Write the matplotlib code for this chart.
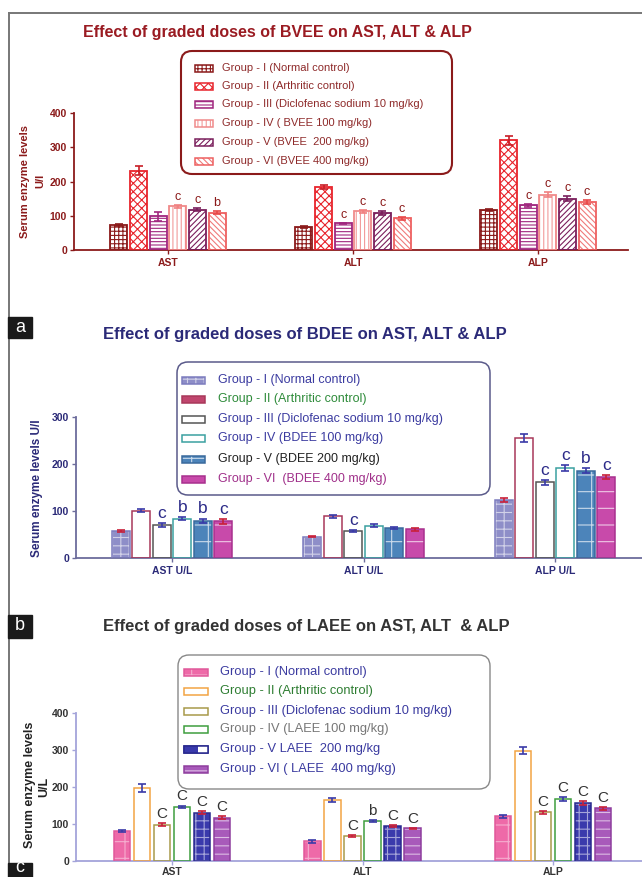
import numpy as np
import matplotlib
matplotlib.use('Agg')
import matplotlib.pyplot as plt
from matplotlib.patches import Rectangle, FancyBboxPatch

plt.rcParams['font.family'] = ['Liberation Sans', 'DejaVu Sans']
plt.rcParams['hatch.linewidth'] = 0.8

W, H = 642, 877

# ---- data: rows = AST, ALT, ALP ; columns = Group I .. VI ----
enz_a = ['AST', 'ALT', 'ALP']
bvee_mean = [[72, 232, 99, 128, 118, 109],
             [67, 184, 78, 113, 108, 92],
             [117, 321, 130, 162, 150, 139]]
bvee_err = [[3, 12, 13, 4, 5, 4],
            [4, 7, 2, 5, 5, 4],
            [4, 13, 5, 6, 7, 6]]
bvee_sig = [['', '', '', 'c', 'c', 'b'],
            ['', '', 'c', 'c', 'c', 'c'],
            ['', '', 'c', 'c', 'c', 'c']]
bvee_labels = ['Group - I (Normal control)', 'Group - II (Arthritic control)',
               'Group - III (Diclofenac sodium 10 mg/kg)', 'Group - IV ( BVEE 100 mg/kg)',
               'Group - V (BVEE  200 mg/kg)', 'Group - VI (BVEE 400 mg/kg)']

enz_b = ['AST U/L', 'ALT U/L', 'ALP U/L']
bdee_mean = [[58, 101, 71, 84, 79, 78],
             [45, 89, 58, 69, 64, 61],
             [124, 255, 161, 191, 186, 172]]
bdee_err = [[2, 3, 4, 4, 5, 5],
            [1, 3, 2, 3, 2, 3],
            [4, 8, 5, 6, 6, 4]]
bdee_sig = [['', '', 'c', 'b', 'b', 'c'],
            ['', '', 'c', '', '', ''],
            ['', '', 'c', 'c', 'b', 'c']]
bdee_labels = ['Group - I (Normal control)', 'Group - II (Arthritic control)',
               'Group - III (Diclofenac sodium 10 mg/kg)', 'Group - IV (BDEE 100 mg/kg)',
               'Group - V (BDEE 200 mg/kg)', 'Group - VI  (BDEE 400 mg/kg)']

enz_c = ['AST', 'ALT', 'ALP']
laee_mean = [[81, 197, 98, 146, 131, 117],
             [53, 165, 67, 108, 94, 88],
             [121, 298, 132, 168, 157, 142]]
laee_err = [[3, 10, 4, 4, 3, 4],
            [3, 5, 2, 3, 3, 2],
            [4, 10, 4, 6, 5, 5]]
laee_sig = [['', '', 'C', 'C', 'C', 'C'],
            ['', '', 'C', 'b', 'C', 'C'],
            ['', '', 'C', 'C', 'C', 'C']]
laee_labels = ['Group - I (Normal control)', 'Group - II (Arthritic control)',
               'Group - III (Diclofenac sodium 10 mg/kg)', 'Group - IV (LAEE 100 mg/kg)',
               'Group - V LAEE  200 mg/kg', 'Group - VI ( LAEE  400 mg/kg)']

# ---- bar styles: fill, hatch, hatch colour, edge, error bar colour ----
sty_a = [dict(fill='white', hatch='++++', hc='#8B1A1A', edge='#8B1A1A', ec='#8B1A1A'),
         dict(fill='white', hatch='xxxx', hc='#E8242C', edge='#E8242C', ec='#C81E26'),
         dict(fill='white', hatch='-----', hc='#A0267E', edge='#A0267E', ec='#A0267E'),
         dict(fill='white', hatch='||||', hc='#F29A9A', edge='#F08A8A', ec='#F08080'),
         dict(fill='white', hatch='//////', hc='#7A1F5C', edge='#7A1F5C', ec='#7A1F5C'),
         dict(fill='white', hatch='\\\\\\\\\\\\', hc='#F07A7A', edge='#EE6060', ec='#E84848')]
sty_b = [dict(fill='#8E8EC8', hatch='++', hc=(1, 1, 1, 0.6), edge='#7C7CBE', ec='#C8203A'),
         dict(fill='white', hatch='', hc='white', edge='#A8385A', ec='#3A3AA8'),
         dict(fill='white', hatch='', hc='white', edge='#555555', ec='#3A3AA8'),
         dict(fill='white', hatch='', hc='white', edge='#3AA0A0', ec='#3A3AA8'),
         dict(fill='#4C84BA', hatch='+', hc=(1, 1, 1, 0.7), edge='#3A6A9C', ec='#3A3AA8'),
         dict(fill='#C84AAA', hatch='-', hc=(1, 1, 1, 0.7), edge='#A8308E', ec='#C8203A')]
sty_c = [dict(fill='#EE6AA8', hatch='+', hc=(1, 1, 1, 0.45), edge='#E0589A', ec='#3A3AA8'),
         dict(fill='white', hatch='', hc='white', edge='#F2A444', ec='#3A3AA8'),
         dict(fill='white', hatch='', hc='white', edge='#A89A4A', ec='#C8203A'),
         dict(fill='white', hatch='', hc='white', edge='#3E9E3E', ec='#3A3AA8'),
         dict(fill='#3A3AAC', hatch='++', hc=(1, 1, 1, 0.55), edge='#2A2A8E', ec='#C8203A'),
         dict(fill='#A85ABA', hatch='--', hc=(1, 1, 1, 0.6), edge='#8E3E9E', ec='#C8203A')]

fig = plt.figure(figsize=(W / 100, H / 100), dpi=100)


def px_axes(x0, x1, ytop, ybot):
    return fig.add_axes([x0 / W, 1 - ybot / H, (x1 - x0) / W, (ybot - ytop) / H])


def draw_panel(ax, means, errs, sig, sty, names, pitch, width, ymax, yticks,
               axcol, tickcol, sigcol, sigsize, lw):
    means = np.array(means)
    errs = np.array(errs)
    xg = np.arange(len(names))
    for j, s in enumerate(sty):
        x = xg + (j - 2.5) * pitch
        ax.bar(x, means[:, j], width, color=s['fill'], edgecolor=s['hc'],
               hatch=s['hatch'], linewidth=0, zorder=2)
        ax.bar(x, means[:, j], width, color='none', edgecolor=s['edge'],
               linewidth=lw, zorder=3)
        ax.errorbar(x, means[:, j], yerr=errs[:, j], fmt='none', ecolor=s['ec'],
                    elinewidth=1.2, capsize=3, capthick=1.2, zorder=4)
        for i in range(len(names)):
            if sig[i][j]:
                ax.annotate(sig[i][j], (x[i], means[i, j] + errs[i, j]),
                            xytext=(0, 1.5), textcoords='offset points',
                            ha='center', va='bottom', fontsize=sigsize,
                            color=sigcol, annotation_clip=False)
    ax.set_ylim(0, ymax)
    ax.set_yticks(yticks)
    ax.set_xticks(xg)
    ax.set_xticklabels(names, fontsize=7.5, fontweight='bold')
    for lab in ax.get_yticklabels():
        lab.set_fontsize(7.5)
        lab.set_fontweight('bold')
    for sp in ['top', 'right']:
        ax.spines[sp].set_visible(False)
    for sp in ['left', 'bottom']:
        ax.spines[sp].set_color(axcol)
        ax.spines[sp].set_linewidth(1.3)
    ax.tick_params(axis='both', color=axcol, labelcolor=tickcol, length=3, width=1, pad=2)
    ax.tick_params(axis='x', pad=3)
    ax.patch.set_alpha(0)


# panel a : BVEE
ax_a = px_axes(74, 628, 113, 250)
ax_a.set_xlim((74 - 168) / 185, 2 + (628 - 538) / 185)
draw_panel(ax_a, bvee_mean, bvee_err, bvee_sig, sty_a, enz_a, 0.106, 0.092, 400,
           [0, 100, 200, 300, 400], '#8B1A1A', '#8B1A1A', '#8B1A1A', 9, 1.3)

# panel b : BDEE
ax_b = px_axes(76, 642, 417, 558)
ax_b.set_xlim((76 - 172) / 191.5, 2 + (642 - 555) / 191.5)
draw_panel(ax_b, bdee_mean, bdee_err, bdee_sig, sty_b, enz_b, 0.107, 0.094, 300,
           [0, 100, 200, 300], '#6C6C9C', '#2B2A78', '#2B2A88', 12.5, 1.1)

# panel c : LAEE
ax_c = px_axes(76, 642, 713, 861)
ax_c.set_xlim((76 - 172) / 190.5, 2 + (642 - 553) / 190.5)
draw_panel(ax_c, laee_mean, laee_err, laee_sig, sty_c, enz_c, 0.105, 0.089, 400,
           [0, 100, 200, 300, 400], '#A4A4DA', '#333333', '#333333', 11, 1.1)
ax_c.tick_params(axis='x', pad=1)

# overlay in pixel coordinates for titles, legends, frame and panel tags
bg = fig.add_axes([0, 0, 1, 1])
bg.set_xlim(0, W)
bg.set_ylim(H, 0)
bg.axis('off')
bg.patch.set_alpha(0)

bg.plot([9, 9], [13, H], color='#777777', lw=1.4)
bg.plot([9, W], [13, 13], color='#777777', lw=1.4)

for tag, (ty0, ty1), ty in zip(['a', 'b', 'c'], [(317, 338), (615, 638), (863, 884)],
                               [327, 626, 868]):
    bg.add_patch(Rectangle((8, ty0), 24, ty1 - ty0, color='#1A1A1A', zorder=5))
    bg.text(20, ty, tag, color='white', fontsize=13, ha='center',
            va='center', zorder=6)

bg.text(277, 33, 'Effect of graded doses of BVEE on AST, ALT & ALP', fontsize=11.5,
        fontweight='bold', color='#9A1B22', ha='center', va='center')
bg.text(305, 335, 'Effect of graded doses of BDEE on AST, ALT & ALP', fontsize=12,
        fontweight='bold', color='#2B2A78', ha='center', va='center')
bg.text(306, 627, 'Effect of graded doses of LAEE on AST, ALT  & ALP', fontsize=12,
        fontweight='bold', color='#333333', ha='center', va='center')

# y axis titles
bg.text(25, 181, 'Serum enzyme levels', rotation=90, fontsize=8, fontweight='bold',
        color='#8B1A1A', ha='center', va='center')
bg.text(40, 181, 'U/I', rotation=90, fontsize=8, fontweight='bold',
        color='#8B1A1A', ha='center', va='center')
bg.text(37, 488, 'Serum enzyme levels U/l', rotation=90, fontsize=8.5,
        fontweight='bold', color='#2B2A78', ha='center', va='center')
bg.text(30, 785, 'Serum enzyme levels', rotation=90, fontsize=9, fontweight='bold',
        color='#222222', ha='center', va='center')
bg.text(44, 787, 'U/L', rotation=90, fontsize=9, fontweight='bold',
        color='#222222', ha='center', va='center')


def draw_legend(box, border, blw, rows, labels, colors, sty, sw, fs, swatch_fill=None):
    x0, y0, x1, y1 = box
    bg.add_patch(FancyBboxPatch((x0, y0), x1 - x0, y1 - y0,
                                boxstyle='round,pad=0,rounding_size=11',
                                facecolor='white', edgecolor=border, lw=blw, zorder=3))
    sx0, sx1, tx = sw
    for k, (yy, lab, col, s) in enumerate(zip(rows, labels, colors, sty)):
        fill = s['fill']
        hc = s['hc']
        if swatch_fill and swatch_fill[k]:
            fill, hc = swatch_fill[k]
        bg.add_patch(Rectangle((sx0, yy - 3.5), sx1 - sx0, 7, facecolor=fill,
                               edgecolor=hc, hatch=s['hatch'], lw=0, zorder=4))
        bg.add_patch(Rectangle((sx0, yy - 3.5), sx1 - sx0, 7, facecolor='none',
                               edgecolor=s['edge'], lw=1.1, zorder=5))
        bg.text(tx, yy, lab, fontsize=fs, color=col, ha='left', va='center', zorder=6)


draw_legend((181, 51, 452, 174), '#8B1A1A', 1.5,
            [68, 86, 104, 123, 142, 161], bvee_labels, ['#8E2A2A'] * 6, sty_a,
            (195, 213, 222), 8)
draw_legend((177, 362, 490, 495), '#5A5A8A', 1.1,
            [380, 399, 419, 438, 459, 479], bdee_labels,
            ['#3B3BA0', '#2E8B3A', '#3B3BA0', '#3B3BA0', '#222222', '#A0308A'], sty_b,
            (182, 205, 218), 9,
            swatch_fill=[None, ('#C0466E', (1, 1, 1, 0.5)), None, None, None, None])
draw_legend((178, 655, 490, 789), '#888888', 1.0,
            [672, 691, 711, 729, 749, 769], laee_labels,
            ['#3B3BA0', '#2E7D32', '#3B3BA0', '#777777', '#3B3BA0', '#3B3BA0'], sty_c,
            (184, 208, 220), 9.3)
# half-filled swatch for Group V of the LAEE legend
bg.add_patch(Rectangle((184, 749 - 3.5), 14, 7, facecolor='#3A3AAC', lw=0, zorder=5))
bg.add_patch(Rectangle((198, 749 - 3.5), 10, 7, facecolor='white', lw=0, zorder=5))
bg.add_patch(Rectangle((184, 749 - 3.5), 24, 7, facecolor='none', edgecolor='#2A2A8E',
                       lw=1.1, zorder=6))

fig.savefig('out.png', dpi=100)
